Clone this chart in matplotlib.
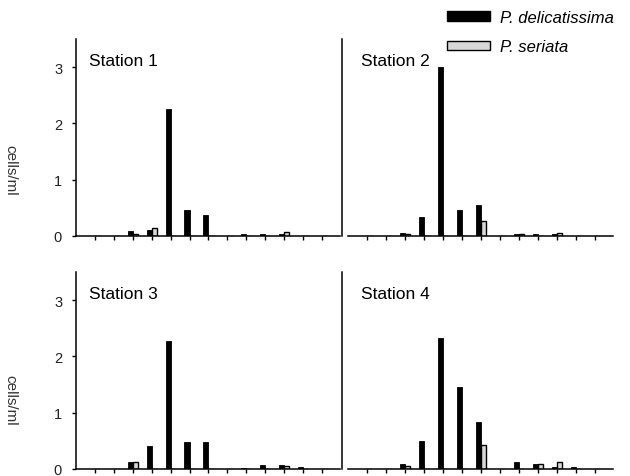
import matplotlib
matplotlib.use("Agg")
import matplotlib.pyplot as plt
import matplotlib.patches as mpatches
import numpy as np

plt.rcParams['font.family'] = ['Liberation Sans', 'DejaVu Sans']

# size classes along the x axis (no labels shown in the original)
classes = np.arange(1, 14)

# cells per ml, one list per station and species
s1_del = [0, 0, 0.08, 0.10, 2.25, 0.47, 0.37, 0, 0.03, 0.03, 0.04, 0, 0]
s1_ser = [0, 0, 0.04, 0.15, 0, 0, 0, 0, 0, 0, 0.07, 0, 0]
s2_del = [0, 0, 0.06, 0.33, 3.00, 0.47, 0.55, 0, 0.03, 0.03, 0.03, 0, 0]
s2_ser = [0, 0, 0.03, 0, 0, 0, 0.26, 0, 0.03, 0, 0.06, 0, 0]
s3_del = [0, 0, 0.12, 0.41, 2.28, 0.48, 0.48, 0, 0.02, 0.07, 0.07, 0.03, 0]
s3_ser = [0, 0, 0.12, 0, 0, 0, 0, 0, 0, 0, 0.05, 0, 0]
s4_del = [0, 0, 0.08, 0.49, 2.33, 1.45, 0.84, 0, 0.12, 0.08, 0.04, 0.04, 0]
s4_ser = [0, 0, 0.05, 0, 0, 0, 0.43, 0, 0, 0.08, 0.12, 0, 0]

stations = ['Station 1', 'Station 2', 'Station 3', 'Station 4']
yticks = [0, 1, 2, 3]

GREY = '#d8d8d8'
W = 0.27

fig = plt.figure(figsize=(6.3, 4.77), dpi=100)

# axes boxes in pixels: left, bottom(from top), right
boxes = [
    (76, 237, 340),
    (348, 237, 613),
    (76, 470, 340),
    (348, 470, 613),
]
data = [(s1_del, s1_ser), (s2_del, s2_ser), (s3_del, s3_ser), (s4_del, s4_ser)]

for i, ((l, b, r), (d, s)) in enumerate(zip(boxes, data)):
    ax = fig.add_axes([l / 630, 1 - b / 477, (r - l) / 630, 197 / 477])
    ax.bar(classes - W / 2, d, width=W, color='black', edgecolor='black', linewidth=0.6)
    ax.bar(classes + W / 2, s, width=W, color=GREY, edgecolor='black', linewidth=1.0)
    ax.set_xlim(0, 13.95)
    ax.set_ylim(0, 3.5)
    ax.set_xticks(classes)
    ax.set_xticklabels([])
    ax.tick_params(axis='x', direction='out', length=3, width=1, color='black')
    for sp in ['top', 'right']:
        ax.spines[sp].set_visible(False)
    ax.spines['left'].set_linewidth(1.1)
    ax.spines['bottom'].set_linewidth(1.1)
    if i % 2 == 0:
        ax.set_yticks(yticks)
        ax.set_yticklabels([str(t) for t in yticks], fontsize=10.5, color='#222222')
        ax.tick_params(axis='y', direction='out', length=3, width=1, pad=7)
    else:
        ax.set_yticks([])
        ax.spines['left'].set_position(('outward', 4))
    ax.text(0.05, 0.89, stations[i], transform=ax.transAxes, fontsize=12.5,
            ha='left', va='center')
    ax.patch.set_alpha(0)

# y label, clipped at the left edge as in the scanned figure
for yc in (170, 400):
    fig.text(10 / 630, 1 - yc / 477, 'cells/ml', rotation=270, ha='center',
             va='center', fontsize=11, color='#333333')

h_del = mpatches.Patch(facecolor='black', edgecolor='black', label='P. delicatissima')
h_ser = mpatches.Patch(facecolor=GREY, edgecolor='black', label='P. seriata')
leg = fig.legend(handles=[h_del, h_ser], loc='upper left',
                 bbox_to_anchor=(447 / 630, 1 - 11 / 477), frameon=False,
                 prop={'style': 'italic', 'size': 12}, handlelength=2.6,
                 handleheight=0.5, labelspacing=0.85, handletextpad=0.6,
                 borderpad=0, borderaxespad=0)

fig.savefig('out.png', dpi=100, facecolor='white')
